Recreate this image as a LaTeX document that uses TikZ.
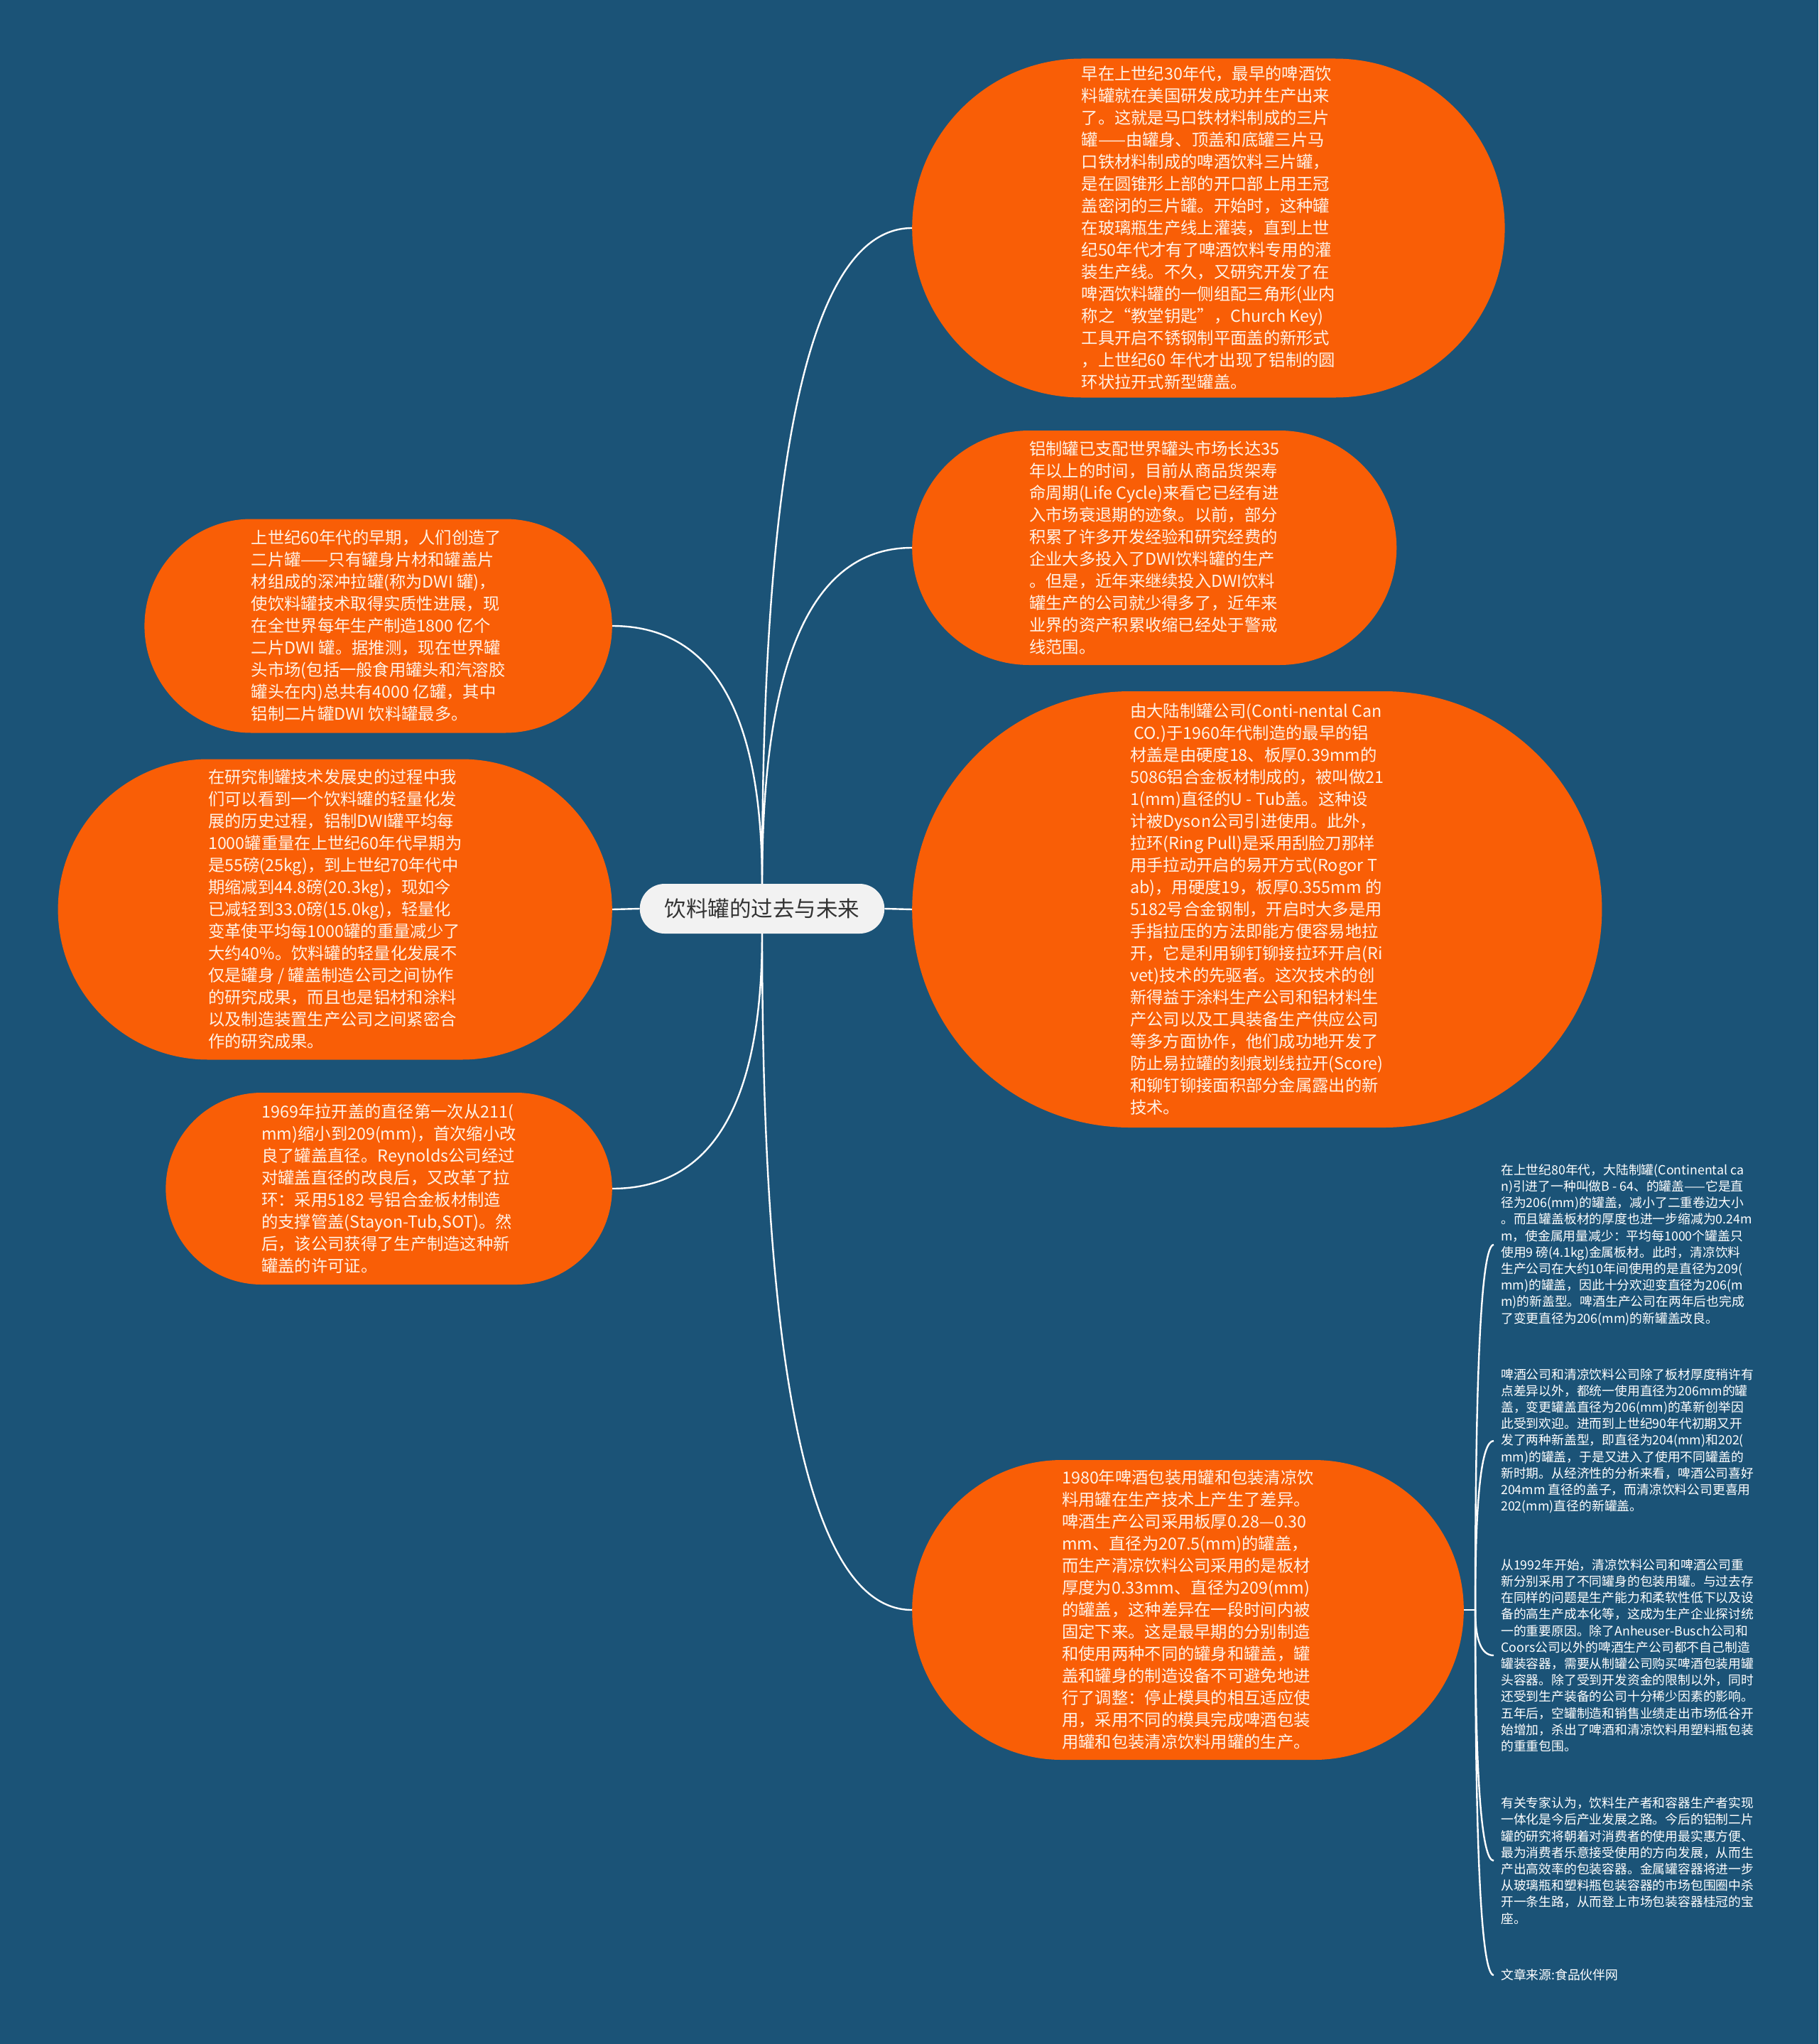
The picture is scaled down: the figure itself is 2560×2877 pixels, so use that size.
\documentclass[tikz,border=0pt]{standalone}
\usepackage{fontspec}
\setmainfont{Noto Sans CJK SC}
\usepackage{tikz}
\usetikzlibrary{calc}

\definecolor{bgblue}{RGB}{27,83,119}
\definecolor{branchorange}{RGB}{249,94,6}
\definecolor{rootgrey}{RGB}{242,242,242}
\definecolor{textcream}{RGB}{255,242,230}

\begin{document}
\begin{tikzpicture}[x=1pt,y=-1pt,
  root/.style={rectangle, rounded corners=35pt, fill=rootgrey, text=black!80, minimum height=70pt,
    inner xsep=35pt, font=\fontsize{30.5}{36}\selectfont},
  branch/.style={rectangle, rounded corners=#1, fill=branchorange, text=textcream, align=left,
    inner xsep=#1, inner ysep=0pt, minimum height=2*#1, font=\fontsize{23.3}{31}\selectfont},
  leaf/.style={text=white, align=left, inner xsep=10pt, inner ysep=0pt,
    font=\fontsize{17.8}{23.2}\selectfont},
  link/.style={draw=white, line width=2.4pt}]
  \fill[bgblue] (0,0) rectangle (2560,2877);
  \useasboundingbox (0,0) rectangle (2560,2877);

  \node[root] (root) at (1073,1279) {饮料罐的过去与未来};

  \node[branch=238.5pt, anchor=west] (r1) at (1284,321) {早在上世纪30年代，最早的啤酒饮\\
    料罐就在美国研发成功并生产出来\\
    了。这就是马口铁材料制成的三片\\
    罐——由罐身、顶盖和底罐三片马\\
    口铁材料制成的啤酒饮料三片罐，\\
    是在圆锥形上部的开口部上用王冠\\
    盖密闭的三片罐。开始时，这种罐\\
    在玻璃瓶生产线上灌装，直到上世\\
    纪50年代才有了啤酒饮料专用的灌\\
    装生产线。不久，又研究开发了在\\
    啤酒饮料罐的一侧组配三角形(业内\\
    称之“教堂钥匙”，Church Key)\\
    工具开启不锈钢制平面盖的新形式\\
    ，上世纪60 年代才出现了铝制的圆\\
    环状拉开式新型罐盖。};
  \node[branch=165pt, anchor=west] (r2) at (1284,771) {铝制罐已支配世界罐头市场长达35\\
    年以上的时间，目前从商品货架寿\\
    命周期(Life Cycle)来看它已经有进\\
    入市场衰退期的迹象。以前，部分\\
    积累了许多开发经验和研究经费的\\
    企业大多投入了DWI饮料罐的生产\\
    。但是，近年来继续投入DWI饮料\\
    罐生产的公司就少得多了，近年来\\
    业界的资产积累收缩已经处于警戒\\
    线范围。};
  \node[branch=307pt, anchor=west] (r3) at (1284,1280) {由大陆制罐公司(Conti-nental Can\\
    \ CO.)于1960年代制造的最早的铝\\
    材盖是由硬度18、板厚0.39mm的\\
    5086铝合金板材制成的，被叫做21\\
    1(mm)直径的U - Tub盖。这种设\\
    计被Dyson公司引进使用。此外，\\
    拉环(Ring Pull)是采用刮脸刀那样\\
    用手拉动开启的易开方式(Rogor T\\
    ab)，用硬度19，板厚0.355mm 的\\
    5182号合金钢制，开启时大多是用\\
    手指拉压的方法即能方便容易地拉\\
    开，它是利用铆钉铆接拉环开启(Ri\\
    vet)技术的先驱者。这次技术的创\\
    新得益于涂料生产公司和铝材料生\\
    产公司以及工具装备生产供应公司\\
    等多方面协作，他们成功地开发了\\
    防止易拉罐的刻痕划线拉开(Score)\\
    和铆钉铆接面积部分金属露出的新\\
    技术。};
  \node[branch=211pt, anchor=west] (r4) at (1284,2266) {1980年啤酒包装用罐和包装清凉饮\\
    料用罐在生产技术上产生了差异。\\
    啤酒生产公司采用板厚0.28—0.30\\
    mm、直径为207.5(mm)的罐盖，\\
    而生产清凉饮料公司采用的是板材\\
    厚度为0.33mm、直径为209(mm)\\
    的罐盖，这种差异在一段时间内被\\
    固定下来。这是最早期的分别制造\\
    和使用两种不同的罐身和罐盖，罐\\
    盖和罐身的制造设备不可避免地进\\
    行了调整：停止模具的相互适应使\\
    用，采用不同的模具完成啤酒包装\\
    用罐和包装清凉饮料用罐的生产。};

  \node[branch=150.5pt, anchor=east] (l1) at (862,881) {上世纪60年代的早期，人们创造了\\
    二片罐——只有罐身片材和罐盖片\\
    材组成的深冲拉罐(称为DWI 罐)，\\
    使饮料罐技术取得实质性进展，现\\
    在全世界每年生产制造1800 亿个\\
    二片DWI 罐。据推测，现在世界罐\\
    头市场(包括一般食用罐头和汽溶胶\\
    罐头在内)总共有4000 亿罐，其中\\
    铝制二片罐DWI 饮料罐最多。};
  \node[branch=211.5pt, anchor=east] (l2) at (862,1280) {在研究制罐技术发展史的过程中我\\
    们可以看到一个饮料罐的轻量化发\\
    展的历史过程，铝制DWI罐平均每\\
    1000罐重量在上世纪60年代早期为\\
    是55磅(25kg)，到上世纪70年代中\\
    期缩减到44.8磅(20.3kg)，现如今\\
    已减轻到33.0磅(15.0kg)，轻量化\\
    变革使平均每1000罐的重量减少了\\
    大约40\%。饮料罐的轻量化发展不\\
    仅是罐身 / 罐盖制造公司之间协作\\
    的研究成果，而且也是铝材和涂料\\
    以及制造装置生产公司之间紧密合\\
    作的研究成果。};
  \node[branch=135pt, anchor=east] (l3) at (862,1673) {1969年拉开盖的直径第一次从211(\\
    mm)缩小到209(mm)，首次缩小改\\
    良了罐盖直径。Reynolds公司经过\\
    对罐盖直径的改良后，又改革了拉\\
    环：采用5182 号铝合金板材制造\\
    的支撑管盖(Stayon-Tub,SOT)。然\\
    后，该公司获得了生产制造这种新\\
    罐盖的许可证。};

  \node[leaf, anchor=west] (n1) at (2103,1752) {在上世纪80年代，大陆制罐(Continental ca\\
    n)引进了一种叫做B - 64、的罐盖——它是直\\
    径为206(mm)的罐盖，减小了二重卷边大小\\
    。而且罐盖板材的厚度也进一步缩减为0.24m\\
    m，使金属用量减少：平均每1000个罐盖只\\
    使用9 磅(4.1kg)金属板材。此时，清凉饮料\\
    生产公司在大约10年间使用的是直径为209(\\
    mm)的罐盖，因此十分欢迎变直径为206(m\\
    m)的新盖型。啤酒生产公司在两年后也完成\\
    了变更直径为206(mm)的新罐盖改良。};
  \node[leaf, anchor=west] (n2) at (2103,2028) {啤酒公司和清凉饮料公司除了板材厚度稍许有\\
    点差异以外，都统一使用直径为206mm的罐\\
    盖，变更罐盖直径为206(mm)的革新创举因\\
    此受到欢迎。进而到上世纪90年代初期又开\\
    发了两种新盖型，即直径为204(mm)和202(\\
    mm)的罐盖，于是又进入了使用不同罐盖的\\
    新时期。从经济性的分析来看，啤酒公司喜好\\
    204mm 直径的盖子，而清凉饮料公司更喜用\\
    202(mm)直径的新罐盖。};
  \node[leaf, anchor=west] (n3) at (2103,2330) {从1992年开始，清凉饮料公司和啤酒公司重\\
    新分别采用了不同罐身的包装用罐。与过去存\\
    在同样的问题是生产能力和柔软性低下以及设\\
    备的高生产成本化等，这成为生产企业探讨统\\
    一的重要原因。除了Anheuser-Busch公司和\\
    Coors公司以外的啤酒生产公司都不自己制造\\
    罐装容器，需要从制罐公司购买啤酒包装用罐\\
    头容器。除了受到开发资金的限制以外，同时\\
    还受到生产装备的公司十分稀少因素的影响。\\
    五年后，空罐制造和销售业绩走出市场低谷开\\
    始增加，杀出了啤酒和清凉饮料用塑料瓶包装\\
    的重重包围。};
  \node[leaf, anchor=west] (n4) at (2103,2619) {有关专家认为，饮料生产者和容器生产者实现\\
    一体化是今后产业发展之路。今后的铝制二片\\
    罐的研究将朝着对消费者的使用最实惠方便、\\
    最为消费者乐意接受使用的方向发展，从而生\\
    产出高效率的包装容器。金属罐容器将进一步\\
    从玻璃瓶和塑料瓶包装容器的市场包围圈中杀\\
    开一条生路，从而登上市场包装容器桂冠的宝\\
    座。};
  \node[leaf, anchor=west] (n5) at (2103,2780) {文章来源:食品伙伴网};

  \draw[link] (root.east) -- (r3.west);
  \draw[link] (root.west) -- (l2.east);
  \foreach \t/\s in {r1/west,r2/west,l1/east}
    \draw[link] (root.north) .. controls ($(root.north)!.667!(root.north |- \t.\s)$)
      and ($(\t.\s)!.667!(root.north |- \t.\s)$) .. (\t.\s);
  \foreach \t/\s in {l3/east,r4/west}
    \draw[link] (root.south) .. controls ($(root.south)!.667!(root.south |- \t.\s)$)
      and ($(\t.\s)!.667!(root.south |- \t.\s)$) .. (\t.\s);

  \coordinate (fork) at ($(r4.east)+(16,0)$);
  \draw[link] (r4.east) -- (fork);
  \foreach \n in {n1,n2,n3,n4,n5}
    \draw[link] (fork) .. controls ($(fork)!.667!(fork |- \n.west)$)
      and ($(\n.west)!.667!(fork |- \n.west)$) .. (\n.west);
\end{tikzpicture}
\end{document}
